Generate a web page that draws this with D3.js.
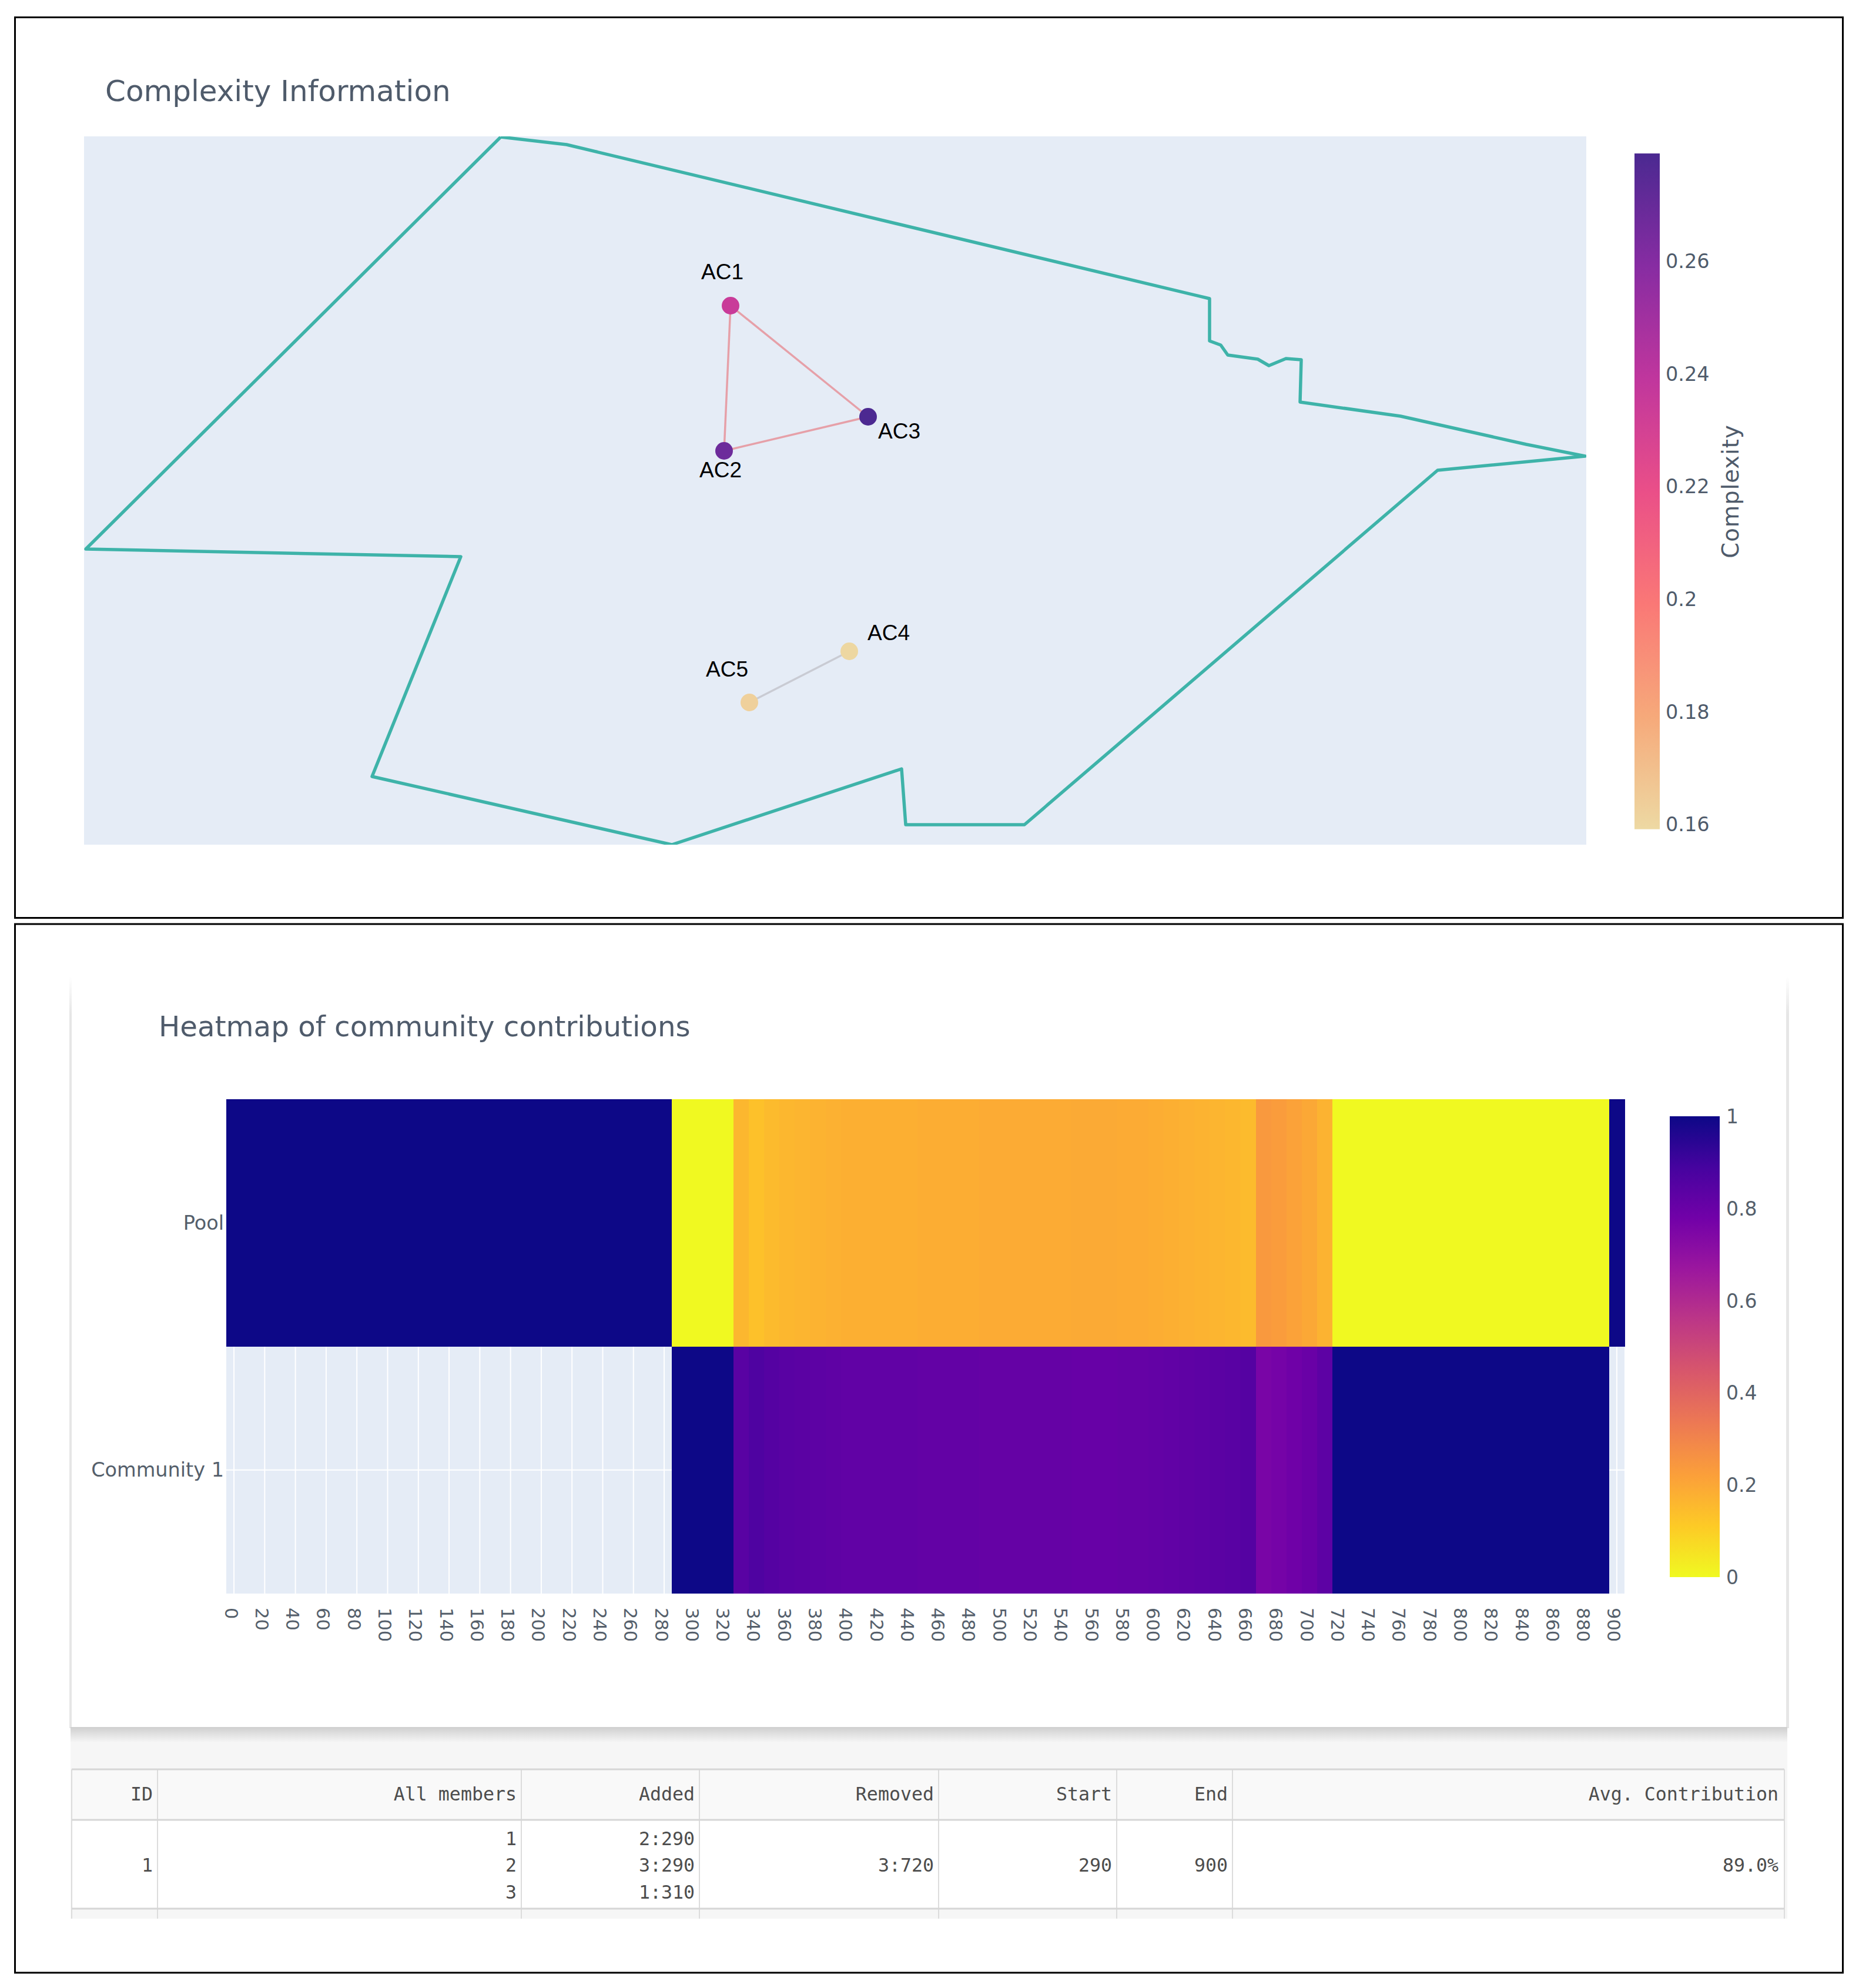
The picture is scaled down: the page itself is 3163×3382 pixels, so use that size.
<!DOCTYPE html>
<html>
<head>
<meta charset="utf-8">
<script src="https://cdn.jsdelivr.net/npm/d3@7/dist/d3.min.js"></script>
<style>
html,body{margin:0;padding:0;background:#fff;}
svg{display:block;}
</style>
</head>
<body>
<div id="chart"></div>
<script>
// ---------- data: complexity map ----------
const outlineX = [709,821,1915,1915,1934,1946,1997,2016,2045,2071,2069,2240,2454,2554,2303,1600,1398,1391,1000,490,641,3,709];
const outlineY = [1204,1191,929,857,850,833,826,815,827,825,753,729,681,661,637,34,34,129,0,116,490,503,1204];
const nodeNames = ["AC1","AC2","AC3","AC4","AC5"];
const nodeX = [1100,1089,1334,1302,1132];
const nodeY = [917,670,728,329,242];
const nodeComplexity = [0.235,0.268,0.279,0.16,0.163];
const labelX = [1086,1083,1387,1369,1094];
const labelY = [962,625,691,348,286];
const edgeSource = ["AC1","AC1","AC2","AC4"];
const edgeTarget = ["AC2","AC3","AC3","AC5"];
const complexityTicks = [0.16,0.18,0.2,0.22,0.24,0.26];
const agsunsetR = ["#edd9a3","#f6a97a","#fa7876","#ea4f88","#c0369d","#872ca2","#4b2991"];

// ---------- data: heatmap ----------
const steps = [0,10,20,30,40,50,60,70,80,90,100,110,120,130,140,150,160,170,180,190,200,210,220,230,240,250,260,270,280,
  290,300,310,320,
  330,340,350,360,370,380,390,400,410,420,430,440,450,460,470,480,490,500,510,520,530,540,550,560,570,580,590,600,610,620,630,640,650,660,670,680,690,700,710,
  720,730,740,750,760,770,780,790,800,810,820,830,840,850,860,870,880,890,900];
const poolValues = [1,1,1,1,1,1,1,1,1,1,1,1,1,1,1,1,1,1,1,1,1,1,1,1,1,1,1,1,1,
  0,0,0,0,
  0.16,0.135,0.15,0.16,0.165,0.17,0.175,0.18,0.18,0.18,0.18,0.18,0.185,0.185,0.185,0.185,0.19,0.19,0.19,0.19,0.19,0.19,0.195,0.195,0.195,0.19,0.19,0.185,0.18,0.175,0.17,0.165,0.16,0.15,0.24,0.23,0.215,0.2,0.17,
  0,0,0,0,0,0,0,0,0,0,0,0,0,0,0,0,0,0,
  1];
const communityValues = [null,null,null,null,null,null,null,null,null,null,null,null,null,null,null,null,null,null,null,null,null,null,null,null,null,null,null,null,null,
  1,1,1,1,
  0.84,0.865,0.85,0.84,0.835,0.83,0.825,0.82,0.82,0.82,0.82,0.82,0.815,0.815,0.815,0.815,0.81,0.81,0.81,0.81,0.81,0.81,0.805,0.805,0.805,0.81,0.81,0.815,0.82,0.825,0.83,0.835,0.84,0.85,0.76,0.77,0.785,0.8,0.83,
  1,1,1,1,1,1,1,1,1,1,1,1,1,1,1,1,1,1,
  null];
const rowNames = ["Pool","Community 1"];
const xTicks = [0,20,40,60,80,100,120,140,160,180,200,220,240,260,280,300,320,340,360,380,400,420,440,460,480,500,520,540,560,580,600,620,640,660,680,700,720,740,760,780,800,820,840,860,880,900];
const contributionTicks = [0,0.2,0.4,0.6,0.8,1];
const plasmaR = ["#f0f921","#fdca26","#fb9f3a","#ed7953","#d8576b","#bd3786","#9c179e","#7201a8","#46039f","#0d0887"];

// ---------- data: table ----------
const tableHeaders = ["ID","All members","Added","Removed","Start","End","Avg. Contribution"];
const tableCells = [["1"],["1","2","3"],["2:290","3:290","1:310"],["3:720"],["290"],["900"],["89.0%"]];

// ---------- layout ----------
const W = 3163, H = 3382;
const sansFont = "'DejaVu Sans', sans-serif";
const monoFont = "'DejaVu Sans Mono', monospace";
const svg = d3.select("#chart").append("svg").attr("width",W).attr("height",H).attr("viewBox",`0 0 ${W} ${H}`);
const defs = svg.append("defs");
svg.append("rect").attr("width",W).attr("height",H).attr("fill","#fff");

function vGradient(id, stops){
  const g = defs.append("linearGradient").attr("id",id).attr("x1",0).attr("x2",0).attr("y1",0).attr("y2",1);
  stops.forEach(s=>g.append("stop").attr("offset",s[0]).attr("stop-color",s[1]).attr("stop-opacity",s[2]===undefined?1:s[2]));
}

// frames
svg.append("rect").attr("x",25.5).attr("y",29.5).attr("width",3110).attr("height",1532).attr("fill","none").attr("stroke","#000").attr("stroke-width",3);
svg.append("rect").attr("x",25.5).attr("y",1572).attr("width",3110).attr("height",1784).attr("fill","none").attr("stroke","#000").attr("stroke-width",3);

// ---------- top panel ----------
const textBlue = "#4f5b6b";
svg.append("text").attr("x",179).attr("y",172).attr("font-family",sansFont).attr("font-size",50).attr("fill",textBlue).text("Complexity Information");

const mapX = d3.scaleLinear().domain([0,2556]).range([143,2699]);
const mapY = d3.scaleLinear().domain([0,1205]).range([1437,232]);
svg.append("rect").attr("x",mapX(0)).attr("y",mapY(1205)).attr("width",mapX(2556)-mapX(0)).attr("height",mapY(0)-mapY(1205)).attr("fill","#e5ecf6");
defs.append("clipPath").attr("id","mapClip").append("rect").attr("x",mapX(0)).attr("y",mapY(1205)).attr("width",mapX(2556)-mapX(0)).attr("height",mapY(0)-mapY(1205));

const outline = d3.line().x(d=>mapX(d[0])).y(d=>mapY(d[1]));
svg.append("path").datum(outlineX.map((x,i)=>[x,outlineY[i]]))
  .attr("d",outline).attr("fill","none").attr("stroke","#3eb3a9").attr("stroke-width",5.5)
  .attr("stroke-linejoin","round").attr("clip-path","url(#mapClip)");

const nodeIndex = new Map(nodeNames.map((n,i)=>[n,i]));
const edges = edgeSource.map((s,i)=>({s:nodeIndex.get(s),t:nodeIndex.get(edgeTarget[i])}));
svg.append("g").selectAll("line").data(edges).join("line")
  .attr("x1",d=>mapX(nodeX[d.s])).attr("y1",d=>mapY(nodeY[d.s]))
  .attr("x2",d=>mapX(nodeX[d.t])).attr("y2",d=>mapY(nodeY[d.t]))
  .attr("stroke",d=>nodeComplexity[d.s]>0.2?"#e6a0a8":"#c9cbd3").attr("stroke-width",3.5);

const complexityDomain = [0.1592,0.2792];
const complexityColor = d3.scaleLinear()
  .domain(agsunsetR.map((_,i)=>complexityDomain[0]+(complexityDomain[1]-complexityDomain[0])*i/(agsunsetR.length-1)))
  .range(agsunsetR).clamp(true);
svg.append("g").selectAll("circle").data(nodeNames).join("circle")
  .attr("cx",(d,i)=>mapX(nodeX[i])).attr("cy",(d,i)=>mapY(nodeY[i])).attr("r",15)
  .attr("fill",(d,i)=>complexityColor(nodeComplexity[i]));
svg.append("g").selectAll("text").data(nodeNames).join("text")
  .attr("x",(d,i)=>mapX(labelX[i])).attr("y",(d,i)=>mapY(labelY[i]))
  .attr("text-anchor","middle").attr("font-family","'Liberation Sans', sans-serif").attr("font-size",37).attr("fill","#000").text(d=>d);

// colour bar 1
const cb1Y = d3.scaleLinear().domain([0.16,0.26]).range([1403,445]);
const g1 = defs.append("linearGradient").attr("id","cb1").attr("x1",0).attr("x2",0).attr("y1",1).attr("y2",0);
agsunsetR.forEach((c,i)=>g1.append("stop").attr("offset",i/(agsunsetR.length-1)).attr("stop-color",c));
svg.append("rect").attr("x",2781).attr("y",cb1Y(complexityDomain[1])).attr("width",43)
  .attr("height",cb1Y(complexityDomain[0])-cb1Y(complexityDomain[1])).attr("fill","url(#cb1)");
const axis1 = svg.append("g").attr("transform","translate(2824,0)")
  .call(d3.axisRight(cb1Y).tickValues(complexityTicks).tickSize(0).tickPadding(10).tickFormat(d=>String(d)));
axis1.select(".domain").remove();
axis1.selectAll("text").attr("font-family",sansFont).attr("font-size",33.5).attr("fill",textBlue);
svg.append("text").attr("transform","translate(2958,836) rotate(-90)").attr("text-anchor","middle")
  .attr("font-family",sansFont).attr("font-size",38.5).attr("letter-spacing",1).attr("fill",textBlue).text("Complexity");

// ---------- bottom panel: card ----------
vGradient("sideFade",[[0,"#e6e6e6",0],[0.05,"#e6e6e6",1],[1,"#e6e6e6",1]]);
vGradient("shadow",[[0,"#cfcfcf"],[1,"#f6f6f6"]]);
svg.append("rect").attr("x",118).attr("y",1661).attr("width",4).attr("height",1279).attr("fill","url(#sideFade)");
svg.append("rect").attr("x",3039).attr("y",1661).attr("width",5).attr("height",1279).attr("fill","url(#sideFade)");
svg.append("rect").attr("x",120).attr("y",2940).attr("width",2921).attr("height",324).attr("fill","#f6f6f6");
svg.append("rect").attr("x",120).attr("y",2938).attr("width",2921).attr("height",26).attr("fill","url(#shadow)");

svg.append("text").attr("x",270).attr("y",1763).attr("font-family",sansFont).attr("font-size",48.3).attr("fill",textBlue).text("Heatmap of community contributions");

// heatmap
const heatX = d3.scaleLinear().domain([-5,905]).range([385,2764]);
const heatY = d3.scaleBand().domain(rowNames).range([1870,2711]);
const heatColor = d3.scaleLinear().domain(plasmaR.map((_,i)=>i/(plasmaR.length-1))).range(plasmaR);
svg.append("rect").attr("x",heatX(-5)).attr("y",heatY.range()[0]).attr("width",heatX(905)-heatX(-5)).attr("height",heatY.range()[1]-heatY.range()[0]).attr("fill","#e5ecf6");
svg.append("g").selectAll("line").data(xTicks).join("line")
  .attr("x1",d=>heatX(d)).attr("x2",d=>heatX(d)).attr("y1",1870).attr("y2",2711).attr("stroke","#fff").attr("stroke-width",2);
svg.append("line").attr("x1",heatX(-5)).attr("x2",heatX(905)).attr("y1",heatY("Community 1")+heatY.bandwidth()/2).attr("y2",heatY("Community 1")+heatY.bandwidth()/2).attr("stroke","#fff").attr("stroke-width",2);
const cells = [];
rowNames.forEach((r,ri)=>{
  const vals = ri===0?poolValues:communityValues;
  steps.forEach((s,i)=>{ if(vals[i]!==null) cells.push({r,s,v:vals[i]}); });
});
svg.append("g").attr("shape-rendering","crispEdges").selectAll("rect").data(cells).join("rect")
  .attr("x",d=>heatX(d.s-5)).attr("y",d=>heatY(d.r))
  .attr("width",d=>heatX(d.s+5)-heatX(d.s-5)+0.6).attr("height",heatY.bandwidth())
  .attr("fill",d=>heatColor(d.v));

const xAxis = svg.append("g").attr("transform","translate(0,2711)")
  .call(d3.axisBottom(heatX).tickValues(xTicks).tickSize(0).tickFormat(d=>String(d)));
xAxis.select(".domain").remove();
xAxis.selectAll("text").attr("x",null).attr("y",null).attr("dy",null)
  .attr("transform","translate(-16,24) rotate(90)").attr("text-anchor","start")
  .attr("font-family",sansFont).attr("font-size",30.5).attr("fill","#555f6b");
const yAxis = svg.append("g").attr("transform","translate(381,1)")
  .call(d3.axisLeft(heatY).tickSize(0).tickPadding(0));
yAxis.select(".domain").remove();
yAxis.selectAll("text").attr("font-family",sansFont).attr("font-size",33.5).attr("fill","#555f6b");

// colour bar 2
const cb2Y = d3.scaleLinear().domain([0,1]).range([2683,1899]);
const g2 = defs.append("linearGradient").attr("id","cb2").attr("x1",0).attr("x2",0).attr("y1",1).attr("y2",0);
plasmaR.forEach((c,i)=>g2.append("stop").attr("offset",i/(plasmaR.length-1)).attr("stop-color",c));
svg.append("rect").attr("x",2841).attr("y",cb2Y(1)).attr("width",85).attr("height",cb2Y(0)-cb2Y(1)).attr("fill","url(#cb2)");
const axis2 = svg.append("g").attr("transform","translate(2926,1)")
  .call(d3.axisRight(cb2Y).tickValues(contributionTicks).tickSize(0).tickPadding(11).tickFormat(d=>String(d)));
axis2.select(".domain").remove();
axis2.selectAll("text").attr("font-family",sansFont).attr("font-size",33).attr("fill","#555f6b");

// ---------- table ----------
const colEdges = [122,268,887,1190,1597,1900,2097,3036];
const tableTop = 3010, headBottom = 3096, rowBottom = 3247, tableEnd = 3264;
svg.append("rect").attr("x",colEdges[0]).attr("y",tableTop).attr("width",colEdges[7]-colEdges[0]).attr("height",headBottom-tableTop).attr("fill","#f9f9f9");
svg.append("rect").attr("x",colEdges[0]).attr("y",headBottom).attr("width",colEdges[7]-colEdges[0]).attr("height",rowBottom-headBottom).attr("fill","#fff");
svg.append("g").selectAll("line").data(colEdges).join("line")
  .attr("x1",d=>d).attr("x2",d=>d).attr("y1",tableTop).attr("y2",tableEnd).attr("stroke","#dcdcdc").attr("stroke-width",2);
svg.append("g").selectAll("line").data([tableTop,headBottom,rowBottom]).join("line")
  .attr("x1",colEdges[0]).attr("x2",colEdges[7]).attr("y1",d=>d).attr("y2",d=>d).attr("stroke","#d6d6d6").attr("stroke-width",3);
const tableText = svg.append("g").attr("font-family",monoFont).attr("font-size",31.6).attr("fill","#4d4d4d").attr("text-anchor","end");
tableHeaders.forEach((h,i)=>{
  const right = colEdges[i+1]-(i===6?10:8);
  tableText.append("text").attr("x",right).attr("y",3063).text(h);
  const lines = tableCells[i];
  lines.forEach((t,k)=>{
    tableText.append("text").attr("x",right).attr("y",3184+(k-(lines.length-1)/2)*45.5).text(t);
  });
});
</script>
</body>
</html>
